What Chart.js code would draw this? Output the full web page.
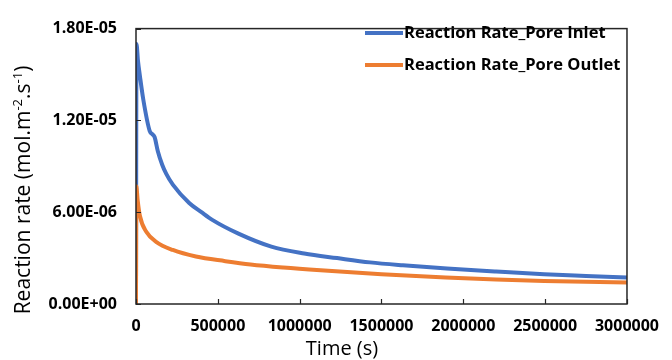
<!DOCTYPE html>
<html lang="en">
<head>
    <meta charset="UTF-8">
    <title>Reaction Rate vs Time</title>
    <script src="https://cdn.jsdelivr.net/npm/chart.js"></script>
    <style>
        html, body { margin: 0; padding: 0; background: #fff; }
        #wrap { width: 672px; height: 360px; }
    </style>
</head>
<body>
    <div id="wrap"><canvas id="rateChart" width="672" height="360"></canvas></div>

    <script>
        // values (time in s, rate in mol.m-2.s-1)
        const timeInlet = [0, 3000, 12000, 24000, 44000, 84000, 100000, 114000, 133000, 160000, 185000, 225000, 325000, 400000, 466000, 626000, 827000, 1028000, 1229000, 1430000, 1631000, 1900000, 2200000, 2494000, 2750000, 3000000];
        const rateInlet = [0, 1.70e-5, 1.59e-5, 1.49e-5, 1.34e-5, 1.13e-5, 1.11e-5, 1.09e-5, 1.0e-5, 9.1e-6, 8.5e-6, 7.8e-6, 6.6e-6, 6.0e-6, 5.5e-6, 4.6e-6, 3.75e-6, 3.3e-6, 3.0e-6, 2.72e-6, 2.53e-6, 2.32e-6, 2.12e-6, 1.94e-6, 1.83e-6, 1.73e-6];

        const timeOutlet = [0, 2000, 10000, 24000, 64000, 125000, 225000, 366000, 546000, 700000, 900000, 1128000, 1500000, 1892000, 2200000, 2494000, 3000000];
        const rateOutlet = [0, 7.7e-6, 6.8e-6, 5.75e-6, 4.7e-6, 4.05e-6, 3.53e-6, 3.1e-6, 2.8e-6, 2.58e-6, 2.38e-6, 2.2e-6, 1.95e-6, 1.73e-6, 1.6e-6, 1.5e-6, 1.41e-6];

        const seriesNames = ["Reaction Rate_Pore Inlet", "Reaction Rate_Pore Outlet"];
        const xTickValues = [0, 500000, 1000000, 1500000, 2000000, 2500000, 3000000];
        const yTickValues = [0, 6e-6, 1.2e-5, 1.8e-5];

        const FONT = "'Open Sans', 'DejaVu Sans', sans-serif";

        function fmtExp(v) {
            // excel style 1.80E-05
            if (v === 0) return "0.00E+00";
            let [m, e] = v.toExponential(2).toUpperCase().split("E");
            let sign = e[0] === "-" ? "-" : "+";
            let digits = e.replace(/[+-]/, "").padStart(2, "0");
            return m + "E" + sign + digits;
        }

        function toPoints(xs, ys) {
            return xs.map((x, i) => ({ x: x, y: ys[i] }));
        }

        // frame, inner ticks, axis titles and legend inside the plot
        const decorPlugin = {
            id: "decor",
            afterDatasetsDraw(chart) {
                const ctx = chart.ctx;
                const a = chart.chartArea;
                const xs = chart.scales.x, ys = chart.scales.y;
                ctx.save();

                ctx.strokeStyle = "#262626";
                ctx.lineWidth = 1.5;
                ctx.strokeRect(a.left, a.top, a.right - a.left, a.bottom - a.top);

                ctx.lineWidth = 1.2;
                ctx.beginPath();
                xTickValues.forEach(v => {
                    let px = Math.round(xs.getPixelForValue(v)) + 0.5;
                    ctx.moveTo(px, a.bottom);
                    ctx.lineTo(px, a.bottom - 5);
                });
                yTickValues.forEach(v => {
                    let py = Math.round(ys.getPixelForValue(v)) + 0.5;
                    ctx.moveTo(a.left, py);
                    ctx.lineTo(a.left + 5, py);
                });
                ctx.stroke();

                // x title
                ctx.fillStyle = "#000";
                ctx.font = "20px " + FONT;
                ctx.textAlign = "center";
                ctx.textBaseline = "middle";
                ctx.fillText("Time (s)", 342, 349);

                // y title with superscripts
                const parts = [
                    ["Reaction rate (mol.m", false], ["-2", true], [".s", false], ["-1", true], [")", false]
                ];
                const big = "21px " + FONT, small = "13px " + FONT;
                let total = 0;
                parts.forEach(p => { ctx.font = p[1] ? small : big; total += ctx.measureText(p[0]).width; });
                ctx.translate(23, 190);
                ctx.rotate(-Math.PI / 2);
                ctx.textAlign = "left";
                ctx.textBaseline = "alphabetic";
                let cx = -total / 2;
                parts.forEach(p => {
                    ctx.font = p[1] ? small : big;
                    ctx.fillText(p[0], cx, p[1] ? -1 : 7);
                    cx += ctx.measureText(p[0]).width;
                });
                ctx.restore();

                // legend
                ctx.save();
                ctx.font = "bold 16.5px " + FONT;
                ctx.textBaseline = "middle";
                ctx.textAlign = "left";
                chart.data.datasets.forEach((ds, i) => {
                    let y = 33 + i * 32;
                    ctx.strokeStyle = ds.borderColor;
                    ctx.lineWidth = 4;
                    ctx.beginPath();
                    ctx.moveTo(365, y);
                    ctx.lineTo(403, y);
                    ctx.stroke();
                    ctx.fillStyle = "#000";
                    ctx.fillText(ds.label, 404, y);
                });
                ctx.restore();
            }
        };

        const ctx = document.getElementById("rateChart").getContext("2d");
        new Chart(ctx, {
            type: "line",
            data: {
                datasets: [
                    {
                        label: seriesNames[0],
                        data: toPoints(timeInlet, rateInlet),
                        borderColor: "#4472C4",
                        borderWidth: 4,
                        pointRadius: 0,
                        cubicInterpolationMode: "monotone",
                        order: 2
                    },
                    {
                        label: seriesNames[1],
                        data: toPoints(timeOutlet, rateOutlet),
                        borderColor: "#ED7D31",
                        borderWidth: 4,
                        pointRadius: 0,
                        cubicInterpolationMode: "monotone",
                        order: 1
                    }
                ]
            },
            options: {
                responsive: false,
                animation: false,
                layout: { padding: { top: 20, right: 39, left: 0, bottom: 0 } },
                plugins: { legend: { display: false }, tooltip: { enabled: false } },
                scales: {
                    x: {
                        type: "linear",
                        min: 0,
                        max: 3000000,
                        afterBuildTicks: s => { s.ticks = xTickValues.map(v => ({ value: v })); },
                        afterFit: s => { s.height = 56; },
                        grid: { display: false, drawTicks: false },
                        border: { display: false },
                        ticks: {
                            color: "#000",
                            font: { family: FONT, size: 16, weight: "bold" },
                            padding: 13,
                            maxRotation: 0,
                            autoSkip: false,
                            callback: v => String(v)
                        }
                    },
                    y: {
                        min: 0,
                        max: 1.8e-5,
                        afterBuildTicks: s => { s.ticks = yTickValues.map(v => ({ value: v })); },
                        afterFit: s => { s.width = 136; },
                        grid: { display: false, drawTicks: false },
                        border: { display: false },
                        ticks: {
                            color: "#000",
                            font: { family: FONT, size: 16, weight: "bold" },
                            padding: 19,
                            callback: v => fmtExp(v)
                        }
                    }
                }
            },
            plugins: [decorPlugin]
        });
    </script>
</body>
</html>
